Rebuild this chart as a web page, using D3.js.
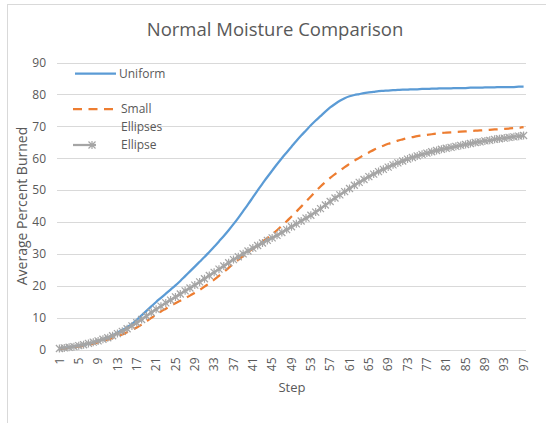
<!DOCTYPE html>
<html><head><meta charset="utf-8">
<script src="https://cdn.jsdelivr.net/npm/d3@7"></script>
<style>
body{margin:0;background:#fff}
text{font-family:"Open Sans",sans-serif;fill:#595959}
</style>
</head><body><svg id="c" width="546" height="423"></svg>
<script>
const steps = d3.range(1, 98);
const uniform = [0.3,0.5,0.7,0.9,1.1,1.4,1.8,2.2,2.7,3.2,3.8,4.5,5.3,6.1,7.0,8.0,9.3,10.7,12.1,13.5,
14.9,16.2,17.5,18.8,20.1,21.5,23.0,24.5,26.0,27.5,29.0,30.6,32.2,33.9,35.6,37.4,39.3,41.3,43.4,45.5,
47.7,49.9,52.0,54.1,56.1,58.1,60.0,61.8,63.6,65.4,67.1,68.7,70.3,71.8,73.2,74.6,75.9,77.0,78.0,78.8,
79.4,79.8,80.1,80.4,80.6,80.8,81.0,81.1,81.2,81.3,81.4,81.5,81.5,81.6,81.6,81.7,81.7,81.8,81.8,81.9,
81.9,81.9,82.0,82.0,82.0,82.1,82.1,82.1,82.2,82.2,82.2,82.3,82.3,82.3,82.3,82.4,82.4];
const smallEllipses = [0.2,0.3,0.5,0.7,0.9,1.1,1.4,1.8,2.2,2.6,3.1,3.6,4.1,4.7,5.4,6.1,6.9,7.8,8.8,9.9,
10.9,11.9,12.8,13.7,14.5,15.3,16.1,16.9,17.8,18.7,19.7,20.8,21.9,23.1,24.3,25.6,26.9,28.1,29.3,30.5,
31.6,32.7,33.8,34.9,36.1,37.4,38.8,40.2,41.7,43.2,44.8,46.4,48.0,49.6,51.1,52.5,53.8,55.0,56.1,57.2,
58.2,59.2,60.1,61.0,61.8,62.6,63.3,63.9,64.5,65.0,65.5,65.9,66.3,66.6,66.9,67.1,67.3,67.5,67.7,67.9,
68.0,68.1,68.2,68.3,68.4,68.5,68.6,68.7,68.8,68.9,69.0,69.1,69.2,69.3,69.4,69.5,69.7];
const ellipse = [0.3,0.5,0.7,0.9,1.2,1.5,1.9,2.3,2.7,3.2,3.7,4.3,5.0,5.7,6.5,7.4,8.4,9.4,10.5,11.6,
12.6,13.6,14.6,15.5,16.5,17.4,18.4,19.3,20.2,21.2,22.2,23.2,24.2,25.2,26.2,27.2,28.2,29.1,30.0,30.9,
31.8,32.6,33.4,34.2,35.0,35.8,36.7,37.6,38.5,39.4,40.3,41.2,42.1,43.1,44.2,45.3,46.4,47.5,48.5,49.5,
50.5,51.5,52.4,53.3,54.2,55.0,55.8,56.5,57.2,57.9,58.5,59.1,59.7,60.2,60.7,61.2,61.6,62.0,62.4,62.8,
63.1,63.4,63.7,64.0,64.3,64.6,64.9,65.1,65.4,65.6,65.9,66.1,66.3,66.5,66.7,66.9,67.1];
const yTicks = [0,10,20,30,40,50,60,70,80,90];
const xTickLabels = steps.filter((d, i) => i % 4 === 0);
const seriesNames = ["Uniform", "Small Ellipses", "Ellipse"];
const colors = ["#5B9BD5", "#ED7D31", "#A5A5A5"];

const svg = d3.select("#c");
const L = 57, R = 526, T = 62.5, B = 349.5;

svg.append("rect").attr("x",7.5).attr("y",4.5).attr("width",700).attr("height",700)
  .attr("fill","none").attr("stroke","#D9D9D9");

const x = d3.scaleBand().domain(steps).range([L, R]);
const cx = d => x(d) + x.bandwidth() / 2;
const y = d3.scaleLinear().domain([0, 90]).range([B, T]);

// gridlines
svg.append("g").selectAll("line").data(yTicks).join("line")
  .attr("x1", L).attr("x2", R)
  .attr("y1", d => Math.round(y(d)) + 0.5).attr("y2", d => Math.round(y(d)) + 0.5)
  .attr("stroke", "#D9D9D9").attr("stroke-width", 1);

// title
svg.append("text").attr("x", 275).attr("y", 36).attr("text-anchor", "middle")
  .style("font-size", "18.5px").text("Normal Moisture Comparison");

// y axis
const ya = svg.append("g").attr("transform", `translate(${L},0)`)
  .call(d3.axisLeft(y).tickValues(yTicks).tickSize(0).tickPadding(11));
ya.select(".domain").remove();
ya.selectAll("text").style("font-size", "12px").style("font-family", '"Open Sans",sans-serif').attr("fill", "#595959");

// x axis
const xa = svg.append("g").attr("transform", `translate(0,${B})`)
  .call(d3.axisBottom(x).tickValues(xTickLabels).tickSize(0));
xa.select(".domain").remove();
xa.selectAll("text")
  .attr("transform", "rotate(-90)")
  .attr("x", -8).attr("y", 0).attr("dy", "0.35em")
  .style("text-anchor", "end").style("font-size", "12px")
  .style("font-family", '"Open Sans",sans-serif').attr("fill", "#595959");

// axis titles
svg.append("text").attr("transform", "translate(27,206) rotate(-90)")
  .attr("text-anchor", "middle").style("font-size", "14px").text("Average Percent Burned");
svg.append("text").attr("x", 292).attr("y", 392).attr("text-anchor", "middle")
  .style("font-size", "13px").text("Step");

// lines
const line = d3.line().x((d, i) => cx(steps[i])).y(d => y(d)).curve(d3.curveMonotoneX);
svg.append("path").datum(uniform).attr("d", line).attr("fill", "none")
  .attr("stroke", colors[0]).attr("stroke-width", 2.25).attr("stroke-linejoin", "round");
svg.append("path").datum(smallEllipses).attr("d", line).attr("fill", "none")
  .attr("stroke", colors[1]).attr("stroke-width", 2.25).attr("stroke-dasharray", "9,6.5");
svg.append("path").datum(ellipse).attr("d", line).attr("fill", "none")
  .attr("stroke", colors[2]).attr("stroke-width", 2.25).attr("stroke-linejoin", "round");
const star = "M-3.5,-3.5L3.5,3.5M-3.5,3.5L3.5,-3.5M0,-4L0,4";
svg.append("g").selectAll("path").data(ellipse).join("path")
  .attr("transform", (d, i) => `translate(${cx(steps[i])},${y(d)})`)
  .attr("d", star).attr("fill", "none").attr("stroke", colors[2]).attr("stroke-width", 1.2);

// legend
const lg = svg.append("g");
lg.append("line").attr("x1", 75).attr("x2", 116).attr("y1", 73.5).attr("y2", 73.5)
  .attr("stroke", colors[0]).attr("stroke-width", 2.25);
lg.append("text").attr("x", 119).attr("y", 73.5).attr("dy", "0.35em").style("font-size", "12px").text(seriesNames[0]);
lg.append("line").attr("x1", 73).attr("x2", 117).attr("y1", 109).attr("y2", 109)
  .attr("stroke", colors[1]).attr("stroke-width", 2.25).attr("stroke-dasharray", "9,6.5");
lg.append("text").attr("x", 121).attr("y", 109).attr("dy", "0.35em").style("font-size", "12px").text("Small");
lg.append("text").attr("x", 121).attr("y", 127).attr("dy", "0.35em").style("font-size", "12px").text("Ellipses");
lg.append("line").attr("x1", 73).attr("x2", 96).attr("y1", 145).attr("y2", 145)
  .attr("stroke", colors[2]).attr("stroke-width", 2.25);
lg.append("path").attr("transform", "translate(92,145)").attr("d", star)
  .attr("fill", "none").attr("stroke", colors[2]).attr("stroke-width", 1.2);
lg.append("text").attr("x", 121).attr("y", 145).attr("dy", "0.35em").style("font-size", "12px").text(seriesNames[2]);
</script></body></html>
